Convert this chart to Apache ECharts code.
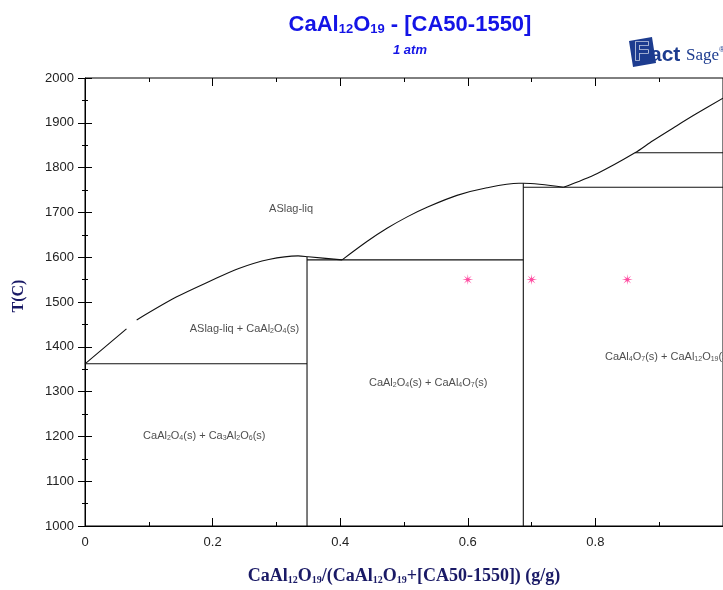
<!DOCTYPE html>
<html lang="en">
<head>
<meta charset="UTF-8">
<title>CaAl12O19 - [CA50-1550]</title>
<style>
  html, body { margin: 0; padding: 0; background: #fff; }
  #chart { width: 723px; height: 590px; }
</style>
</head>
<body>
<div id="chart"></div>
<script src="https://cdn.jsdelivr.net/npm/echarts@6/dist/echarts.min.js"></script>
<script>
// axis ticks
var xTicks = [0, 0.2, 0.4, 0.6, 0.8, 1];
var yTicks = [1000, 1100, 1200, 1300, 1400, 1500, 1600, 1700, 1800, 1900, 2000];

// liquidus, left branch (gap is in the original plot)
var liqLeft = [[0, 1362], [0.065, 1440], null, [0.081, 1460], [0.143, 1511], [0.198, 1548],
  [0.241, 1575], [0.288, 1595], [0.334, 1603], [0.35, 1601], [0.403, 1594]];
// liquidus, middle and right branches
var liqMid = [[0.403, 1594], [0.443, 1636], [0.474, 1665], [0.505, 1690], [0.537, 1712],
  [0.583, 1738], [0.63, 1755], [0.68, 1765], [0.687, 1765], [0.75, 1756]];
var liqRight = [[0.75, 1756], [0.803, 1787], [0.862, 1833], [0.89, 1860], [0.927, 1893],
  [0.958, 1920], [1.0, 1955]];

// invariant lines and compound lines
var lineLow = [[0, 1362], [0.348, 1362]];
var lineMid = [[0.348, 1594], [0.687, 1594]];
var lineHigh = [[0.687, 1756], [1, 1756]];
var lineTop = [[0.862, 1833], [1, 1833]];
var vertCA2 = [[0.348, 1000], [0.348, 1601]];
var vertCA6 = [[0.687, 1000], [0.687, 1765]];

// calculated points
var points = [[0.6, 1550], [0.7, 1550], [0.85, 1550]];

// phase field labels
var labelX = [0.323, 0.25, 0.187, 0.538, 0.815];
var labelT = [1707, 1440, 1200, 1320, 1378];
var labelText = [
  'ASlag-liq',
  'ASlag-liq + CaAl{s|2}O{s|4}(s)',
  'CaAl{s|2}O{s|4}(s) + Ca{s|3}Al{s|2}O{s|6}(s)',
  'CaAl{s|2}O{s|4}(s) + CaAl{s|4}O{s|7}(s)',
  'CaAl{s|4}O{s|7}(s) + CaAl{s|12}O{s|19}(s)'
];
var labelAlign = ['center', 'center', 'center', 'center', 'left'];

function asterisk() {
  var p = [];
  for (var k = 0; k < 16; k++) {
    var a = Math.PI / 2 + k * Math.PI / 8;
    var r = k % 2 === 0 ? 5 : 1.3;
    p.push((5 + r * Math.cos(a)).toFixed(2) + ' ' + (5 - r * Math.sin(a)).toFixed(2));
  }
  return 'path://M' + p.join(' L') + ' Z';
}

function boundary(data, smooth) {
  return {
    type: 'line', data: data, symbol: 'none', smooth: smooth ? 0.3 : false,
    connectNulls: false, silent: true,
    lineStyle: { color: '#111', width: 1.1 }
  };
}

var subRich = {
  s: { fontSize: 7, verticalAlign: 'bottom', lineHeight: 10, fontFamily: 'Liberation Sans', color: '#222' }
};

var chart = echarts.init(document.getElementById('chart'));

var labelData = labelX.map(function (x, i) {
  return {
    value: [x, labelT[i]],
    label: { align: labelAlign[i] }
  };
});

var option = {
  animation: false,
  title: {
    text: 'CaAl{t|12}O{t|19} - [CA50-1550]',
    left: 405, top: 9, textAlign: 'center',
    textStyle: {
      fontFamily: 'Liberation Sans', fontSize: 22, fontWeight: 'bold', color: '#1414e6',
      rich: { t: { fontSize: 13, fontWeight: 'bold', color: '#1414e6', verticalAlign: 'bottom', lineHeight: 17, fontFamily: 'Liberation Sans' } }
    },
    subtext: '1 atm',
    itemGap: 8,
    subtextStyle: { fontFamily: 'Liberation Sans', fontSize: 13, fontStyle: 'italic', fontWeight: 'bold', color: '#1414e6' }
  },
  grid: { left: 85, top: 78, width: 643, height: 453, show: true, borderColor: '#000', borderWidth: 1 },
  xAxis: [{
    type: 'value', min: 0, max: 1, interval: 0.2,
    name: 'CaAl{s|12}O{s|19}/(CaAl{s|12}O{s|19}+[CA50-1550]) (g/g)',
    nameLocation: 'middle', nameGap: 41,
    nameTextStyle: {
      fontFamily: 'Liberation Serif', fontSize: 18, fontWeight: 'bold', color: '#1a1a66',
      rich: { s: { fontFamily: 'Liberation Serif', fontSize: 10, fontWeight: 'bold', color: '#1a1a66', verticalAlign: 'bottom', lineHeight: 15 } }
    },
    axisLine: { lineStyle: { color: '#000', width: 1 } },
    axisTick: { inside: true, length: 8, lineStyle: { color: '#000' } },
    minorTick: { show: true, splitNumber: 2, length: 4, lineStyle: { color: '#000' } },
    splitLine: { show: false },
    axisLabel: {
      showMaxLabel: false, margin: 10, fontFamily: 'Liberation Sans', fontSize: 13, color: '#222',
      formatter: function (v) { return xTicks.indexOf(+v.toFixed(1)) >= 0 ? String(+v.toFixed(1)) : ''; }
    }
  }, {
    type: 'value', min: 0, max: 1, interval: 0.2, position: 'top',
    axisLine: { show: false },
    axisTick: { inside: true, length: 8, lineStyle: { color: '#000' } },
    minorTick: { show: true, splitNumber: 2, length: 4, lineStyle: { color: '#000' } },
    splitLine: { show: false }, axisLabel: { show: false }
  }],
  yAxis: [{
    type: 'value', min: 1000, max: 2000, interval: 100,
    name: 'T(C)', nameLocation: 'middle', nameGap: 58,
    nameTextStyle: { fontFamily: 'Liberation Serif', fontSize: 16, fontWeight: 'bold', color: '#1a1a66', padding: [0, 0, 0, 12] },
    axisLine: { show: true, lineStyle: { color: '#000', width: 1 } },
    axisTick: { show: true, inside: true, length: 7, lineStyle: { color: '#000' } },
    minorTick: { show: true, splitNumber: 2, length: 3, lineStyle: { color: '#000' } },
    splitLine: { show: false },
    axisLabel: {
      margin: 11, fontFamily: 'Liberation Sans', fontSize: 13, color: '#222',
      formatter: function (v) { return yTicks.indexOf(v) >= 0 ? String(v) : ''; }
    }
  }, {
    type: 'value', min: 1000, max: 2000, interval: 100, position: 'right',
    axisLine: { show: false },
    axisTick: { show: true, inside: true, length: 7, lineStyle: { color: '#000' } },
    minorTick: { show: true, splitNumber: 2, length: 3, lineStyle: { color: '#000' } },
    splitLine: { show: false }, axisLabel: { show: false }
  }],
  series: [
    boundary(liqLeft, true),
    boundary(liqMid, true),
    boundary(liqRight, true),
    boundary(lineLow), boundary(lineMid), boundary(lineHigh), boundary(lineTop),
    boundary(vertCA2), boundary(vertCA6),
    {
      type: 'scatter', data: points, symbol: asterisk(), symbolSize: 11, silent: true,
      itemStyle: { color: '#ff1f8a' }
    },
    {
      type: 'scatter', data: labelData, symbolSize: 0, silent: true,
      label: {
        show: true, position: 'inside', fontFamily: 'Liberation Sans', fontSize: 11, color: '#222',
        formatter: function (p) { return labelText[p.dataIndex]; },
        rich: subRich
      }
    }
  ],
  graphic: [{
    type: 'group', left: 629, top: 37,
    children: [
      { type: 'polygon', shape: { points: [[2, 4], [25, 0], [29, 26], [6, 30]] }, style: { fill: '#1d3c8f' } },
      { type: 'text', x: 7, y: 4, style: { text: 'F', fontFamily: 'Liberation Sans', fontWeight: 'bold', fontSize: 25, fill: '#1d3c8f', stroke: '#fff', lineWidth: 1.2 } },
      { type: 'text', x: 23, y: 8, style: { text: 'act', fontFamily: 'Liberation Sans', fontWeight: 'bold', fontSize: 21, fill: '#1d3c8f' } },
      { type: 'text', x: 59, y: 10, style: { text: 'Sage', fontFamily: 'Liberation Serif', fontSize: 17, fill: '#1d3c8f' } },
      { type: 'text', x: 92, y: 9, style: { text: '\u00ae', fontFamily: 'Liberation Sans', fontSize: 8, fill: '#1d3c8f' } }
    ]
  }]
};

chart.setOption(option);
</script>
</body>
</html>
